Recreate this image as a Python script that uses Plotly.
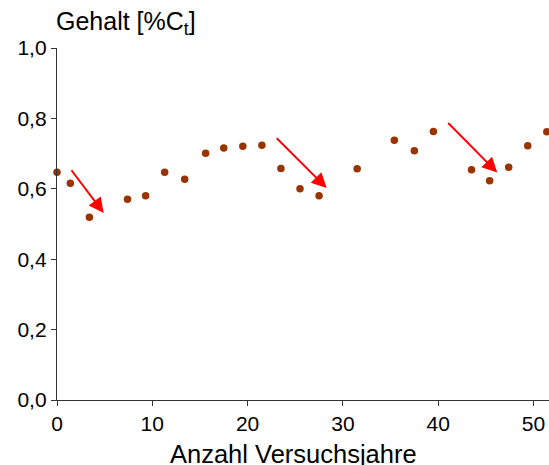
import plotly.graph_objects as go

# Data
years = [0.0, 1.4, 3.4, 7.4, 9.3, 11.3, 13.4, 15.6, 17.5, 19.5, 21.5,
         23.5, 25.5, 27.5, 31.5, 35.4, 37.5, 39.5, 43.5, 45.4, 47.4, 49.4, 51.4]
gehalt = [0.647, 0.616, 0.519, 0.570, 0.580, 0.647, 0.627, 0.701, 0.716, 0.721, 0.724,
          0.658, 0.600, 0.580, 0.657, 0.738, 0.708, 0.763, 0.654, 0.623, 0.661, 0.722, 0.762]

# Arrows (tail -> tip) in data units
arrow_x0 = [1.4, 22.9, 40.9]
arrow_y0 = [0.657, 0.748, 0.791]
arrow_x1 = [4.9, 28.3, 46.2]
arrow_y1 = [0.531, 0.602, 0.646]

x_ticks = [0, 10, 20, 30, 40, 50]
y_ticks = [0.0, 0.2, 0.4, 0.6, 0.8, 1.0]

FONT = "Liberation Sans, Arial, sans-serif"

fig = go.Figure()
fig.add_trace(go.Scatter(
    x=years, y=gehalt, mode="markers",
    marker=dict(color="#993300", size=7.5),
    cliponaxis=False, showlegend=False, hoverinfo="skip"))

annotations = []
for x0, y0, x1, y1 in zip(arrow_x0, arrow_y0, arrow_x1, arrow_y1):
    annotations.append(dict(
        x=x1, y=y1, ax=x0, ay=y0, xref="x", yref="y", axref="x", ayref="y",
        text="", showarrow=True, arrowhead=2, arrowsize=1.5, arrowwidth=2,
        arrowcolor="#FF0000", standoff=0, startstandoff=0))

annotations.append(dict(
    text="Gehalt [%C<sub>t</sub>]", xref="paper", yref="paper",
    x=0, y=1.071, xanchor="left", yanchor="middle", xshift=-3,
    showarrow=False, font=dict(family=FONT, size=25, color="#000000")))

annotations.append(dict(
    text="Anzahl Versuchsjahre", xref="x", yref="paper",
    x=24.8, y=-0.153, xanchor="center", yanchor="middle",
    showarrow=False, font=dict(family=FONT, size=25.5, color="#000000")))

fig.update_layout(
    width=549, height=465,
    margin=dict(l=57, r=0, t=48, b=65, autoexpand=False),
    paper_bgcolor="white", plot_bgcolor="white",
    separators=",.",
    annotations=annotations,
    font=dict(family=FONT, size=21, color="#000000"),
)

axis_common = dict(showgrid=False, zeroline=False, showline=True,
                   linecolor="#333333", linewidth=1.3,
                   ticks="outside", ticklen=5, tickcolor="#333333", tickwidth=1,
                   automargin=False,
                   tickfont=dict(family=FONT, size=21, color="#000000"))

fig.update_xaxes(range=[0, 51.63], tickvals=x_ticks, **axis_common)
fig.update_yaxes(range=[0, 1.0], tickvals=y_ticks, tickformat=".1f", **axis_common)

fig.write_html(
    "out.html",
    config={"displayModeBar": False},
    post_script="document.body.style.margin='0';document.body.style.overflow='hidden';",
)
